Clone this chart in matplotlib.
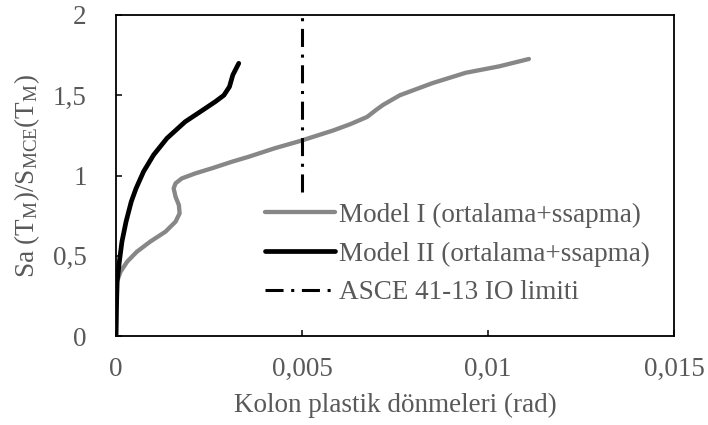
import matplotlib
matplotlib.use("Agg")
import matplotlib.pyplot as plt

plt.rcParams['font.family'] = ['Liberation Serif', 'DejaVu Serif']
plt.rcParams['mathtext.fontset'] = 'custom'
plt.rcParams['mathtext.rm'] = 'Liberation Serif'
plt.rcParams['mathtext.it'] = 'Liberation Serif:italic'
plt.rcParams['mathtext.bf'] = 'Liberation Serif:bold'
plt.rcParams['lines.scale_dashes'] = False

# Data
model1_x = [0, 0.00001, 0.00003, 0.00012, 0.0003, 0.00056, 0.00092, 0.00133, 0.0016, 0.00171,
            0.00169, 0.0016, 0.00155, 0.0016, 0.00177, 0.00213, 0.00258, 0.00312, 0.00357,
            0.00427, 0.00495, 0.00583, 0.0063, 0.00675, 0.0070, 0.00718, 0.00763, 0.0085,
            0.0094, 0.0103, 0.0111]
model1_y = [0, 0.15, 0.34, 0.40, 0.463, 0.525, 0.588, 0.65, 0.712, 0.764,
            0.816, 0.868, 0.92, 0.951, 0.982, 1.013, 1.045, 1.086, 1.117,
            1.17, 1.215, 1.28, 1.32, 1.365, 1.41, 1.44, 1.50, 1.575,
            1.64, 1.68, 1.726]
model2_x = [0, 0.00001, 0.00003, 0.00009, 0.00016, 0.00027, 0.00041, 0.00054, 0.00074, 0.00101,
            0.00137, 0.00186, 0.00227, 0.00267, 0.0029, 0.00305, 0.00314, 0.0033]
model2_y = [0, 0.15, 0.338, 0.463, 0.588, 0.712, 0.837, 0.92, 1.024, 1.128,
            1.232, 1.335, 1.398, 1.46, 1.50, 1.553, 1.626, 1.699]
io_x = [0.005, 0.005]
io_y = [0.9, 2.0]

series_labels = ["Model I (ortalama+ssapma)", "Model II (ortalama+ssapma)", "ASCE 41-13 IO limiti"]
xticks = [0, 0.005, 0.01, 0.015]
xtick_labels = ["0", "0,005", "0,01", "0,015"]
yticks = [0, 0.5, 1, 1.5, 2]
ytick_labels = ["0", "0,5", "1", "1,5", "2"]

txt = '#595959'
fs = 19.5
fig = plt.figure(figsize=(7.08, 4.25), dpi=100)
W, H = 708, 425
ax = fig.add_axes([116 / W, 1 - 336 / H, (674 - 116) / W, (336 - 15) / H])

ax.plot(model1_x, model1_y, color='#878787', lw=3.1, solid_capstyle='round',
        solid_joinstyle='round', label=series_labels[0])
ax.plot(model2_x, model2_y, color='black', lw=3.4, solid_capstyle='round',
        solid_joinstyle='round', label=series_labels[1])
ax.plot(io_x, io_y, color='black', lw=2.2, dashes=(13, 5.5, 2.2, 5.5),
        dash_capstyle='butt', label=series_labels[2])

ax.set_xlim(0, 0.015)
ax.set_ylim(0, 2)
ax.set_xticks(xticks)
ax.set_xticklabels(xtick_labels)
ax.set_yticks(yticks)
ax.set_yticklabels(ytick_labels)
ax.tick_params(direction='in', length=4.5, width=1.1, colors='black',
               labelcolor=txt, labelsize=fs)
ax.tick_params(axis='y', pad=21)
ax.tick_params(axis='x', pad=15)
for s in ax.spines.values():
    s.set_linewidth(1.3)
    s.set_color('black')

ax.set_xlabel("Kolon plastik dönmeleri (rad)", fontsize=fs, color=txt, labelpad=8)
ax.set_ylabel("Sa (T$_{\\mathrm{M}}$)/S$_{\\mathrm{MCE}}$(T$_{\\mathrm{M}}$)", fontsize=fs,
              color=txt, labelpad=8)

leg = ax.legend(loc='center left', bbox_to_anchor=((262 - 116) / 558, (336 - 254) / 321),
                frameon=True, fancybox=False, edgecolor='none', facecolor='white',
                framealpha=1, fontsize=fs, handlelength=2.6, handletextpad=0.15,
                labelspacing=0.5, borderpad=0.1, borderaxespad=0)
for t in leg.get_texts():
    t.set_color(txt)

fig.savefig("out.png", dpi=100)
